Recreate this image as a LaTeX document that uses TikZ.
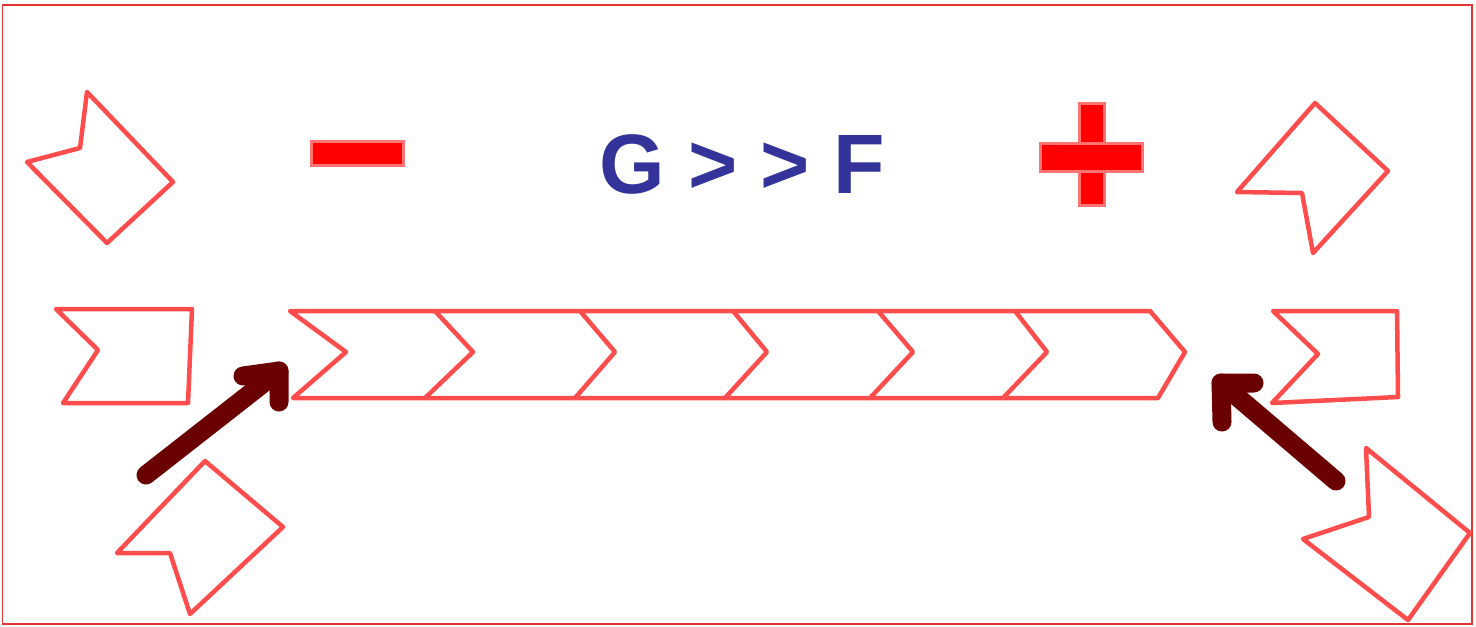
\documentclass[tikz,border=0pt]{standalone}
\usepackage{fontspec}
\setmainfont{Liberation Sans}
\definecolor{framered}{HTML}{E23434}
\definecolor{pushred}{HTML}{6B0000}
\definecolor{ratioblue}{HTML}{333399}
\tikzset{
	monomer/.style={draw=red!70, line width=0.09cm, line join=round, line cap=round},
	push/.style={draw=pushred, line width=0.38cm, line join=round, line cap=round},
	sign/.style={fill=red, draw=red!55, line width=0.06cm},
}
\begin{document}
\begin{tikzpicture}[x=0.02cm, y=-0.02cm]
	\useasboundingbox (0,0) rectangle (1476,626);
	\draw[framered, line width=0.04cm] (2.5,5) rectangle (1472,624);
	% signs and ratio
	\fill[sign] (311,141) rectangle (403,165);
	\fill[sign] (1079,103) rectangle (1104,205);
	\fill[sign] (1040,143) rectangle (1142,171);
	\node[text=ratioblue, font=\fontsize{48}{48}\selectfont\bfseries, anchor=base, inner sep=0pt] (ratio) at (742,193) {G > > F};
	% filament
	\draw[monomer] (290,311) -- (1150,311) -- (1185,352) -- (1158,398) -- (293,398) -- (346,352) -- cycle;
	\foreach \t/\p/\b in {435/473/425, 580/615/575, 733/767/725, 878/913/870, 1015/1047/1003}
	\draw[monomer] (\t,311) -- (\p,352) -- (\b,398);
	% free monomers
	\draw[monomer] (87,92) -- (80,148) -- (27,162) -- (107,243) -- (173,182) -- cycle;
	\draw[monomer] (56,309) -- (98,350) -- (63,403) -- (188,403) -- (192,309) -- cycle;
	\draw[monomer] (205,461) -- (117,553) -- (170,553) -- (190,614) -- (283,527) -- cycle;
	\draw[monomer] (1315,103) -- (1237,192) -- (1302,193) -- (1313,253) -- (1388,171) -- cycle;
	\draw[monomer] (1273,311) -- (1318,354) -- (1272,403) -- (1398,397) -- (1397,311) -- cycle;
	\draw[monomer] (1366,448) -- (1369,517) -- (1303,539) -- (1408,620) -- (1470,533) -- cycle;
	% arrows at both ends
	\coordinate (pointed) at (279,371);
	\coordinate (barbed) at (1221,383);
	\draw[push] (146,475) -- (pointed);
	\draw[push] (243,376) -- (pointed) -- (279,402);
	\draw[push] (1336,481) -- (barbed);
	\draw[push] (1254,383) -- (barbed) -- (1222,422);
\end{tikzpicture}
\end{document}
